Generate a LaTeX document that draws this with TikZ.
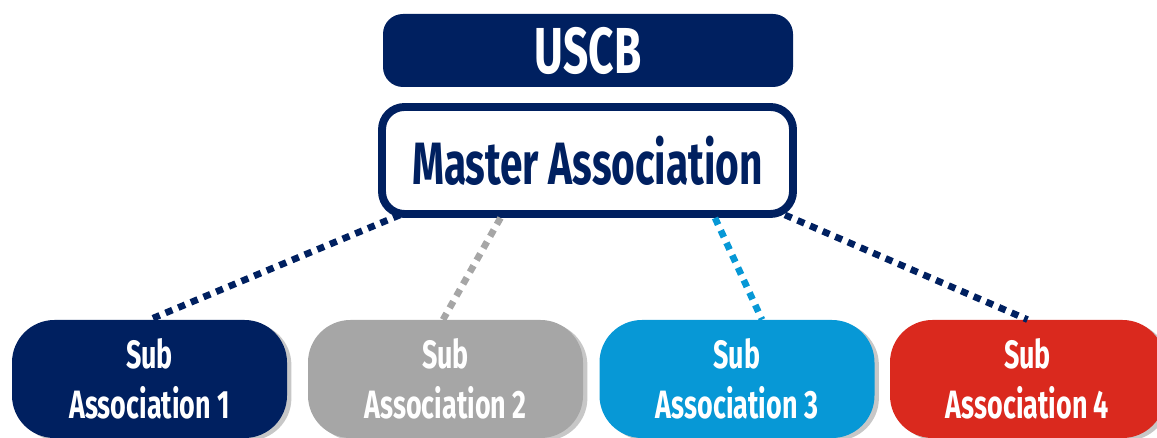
\documentclass[tikz,border=0pt]{standalone}
\usepackage{fontspec}
\setmainfont{Fira Sans}[FakeStretch=0.68]
\usepackage{tikz}
\usetikzlibrary{positioning}
\usetikzlibrary{shadows}

\definecolor{uscbnavy}{RGB}{0,32,96}
\definecolor{subgray}{RGB}{166,166,166}
\definecolor{subblue}{RGB}{7,152,214}
\definecolor{subred}{RGB}{218,41,30}

\tikzset{
    subbox/.style={rounded corners=0.85cm, minimum width=5.5cm, minimum height=2.36cm,
        text=white, align=center, font=\fontsize{22.5}{28.5}\selectfont\bfseries,
        drop shadow={shadow xshift=2.5pt, shadow yshift=-1.5pt, opacity=0.22, fill=black}},
    dotline/.style={line width=3.8pt, dash pattern=on 4.2pt off 3.6pt}
}

\begin{document}
\begin{tikzpicture}
                    \useasboundingbox (0,0) rectangle (23.14,8.76);
                    \clip (0,0) rectangle (23.14,8.76);
                    \node[fill=uscbnavy, rounded corners=0.4cm, minimum width=8.2cm, minimum height=1.46cm, text=white,
                          font=\fontsize{37}{40}\selectfont\bfseries] (uscb) at (11.76,7.75) {USCB};   %top box
                    \node[draw=uscbnavy, line width=4.5pt, fill=white, rounded corners=0.45cm, minimum width=8.22cm, minimum height=2.14cm,
                          text=uscbnavy, font=\fontsize{34}{36}\selectfont\bfseries] (master) at (11.75,5.55) {Master Association};   %master box
                    % sub associations
                    \node[subbox, fill=uscbnavy] (sub1) at (2.99,1.18) {Sub\\Association 1};
                    \node[subbox, fill=subgray] (sub2) at (8.91,1.18) {Sub\\Association 2};
                    \node[subbox, fill=subblue] (sub3) at (14.74,1.18) {Sub\\Association 3};
                    \node[subbox, fill=subred] (sub4) at (20.55,1.18) {Sub\\Association 4};
                    % dotted links
                    \draw[dotline, uscbnavy] ([xshift=0.44cm, yshift=0.06cm]master.south west) -- (sub1.north);
                    \draw[dotline, subgray] ([xshift=-1.74cm]master.south) -- ([xshift=-0.05cm]sub2.north);
                    \draw[dotline, subblue] ([xshift=2.55cm]master.south) -- ([xshift=0.5cm]sub3.north);
                    \draw[dotline, uscbnavy] ([xshift=-0.24cm, yshift=0.06cm]master.south east) -- (sub4.north);
                \end{tikzpicture}
\end{document}
